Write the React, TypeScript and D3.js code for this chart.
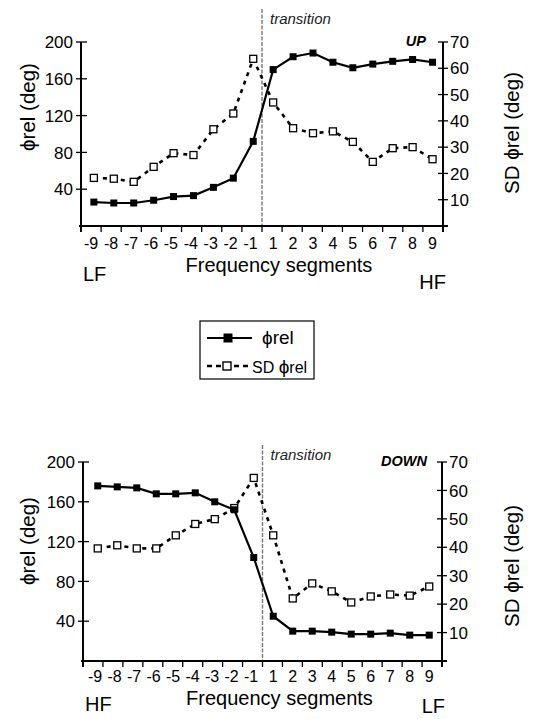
import React from "react";
import * as d3 from "d3";

const categories = [-9, -8, -7, -6, -5, -4, -3, -2, -1, 1, 2, 3, 4, 5, 6, 7, 8, 9];
const upPhi = [26, 25, 25, 28, 32, 33, 42, 52, 92, 170, 184, 188, 178, 172, 176, 179, 181, 178];
const upSD = [18.3, 18, 16.8, 22.5, 27.7, 27, 36.8, 42.8, 63.6, 47, 37.2, 35.3, 36, 32, 24.4, 29.6, 30, 25.4];
const downPhi = [176, 175, 174, 168, 168, 169, 160, 152, 104, 45, 30, 30, 29, 27, 27, 28, 26, 26];
const downSD = [39.6, 40.7, 39.6, 39.6, 44.2, 48.2, 49.9, 53.8, 64.4, 44.2, 22, 27.3, 24.5, 20.6, 22.7, 23.4, 23, 26.2];
const leftTicks = [40, 80, 120, 160, 200];
const rightTicks = [10, 20, 30, 40, 50, 60, 70];
const seriesNames = ["\u03D5rel", "SD \u03D5rel"];

const FONT = "'Liberation Sans', Arial, Helvetica, sans-serif";

type PanelProps = {
  phi: number[];
  sd: number[];
  xL: number;
  xR: number;
  yTop: number;
  yBot: number;
  p0: number;
  p1: number;
  tag: string;
  tagDx: number;
  leftEnd: string;
  rightEnd: string;
  transTop: number;
  leftLabelY: number;
  rightLabelY: number;
  tickDy: number;
  titleDy: number;
  leftEndDy: number;
  rightEndDy: number;
};

function Panel(p: PanelProps) {
  const x = d3.scaleLinear().domain([0, 18]).range([p.xL, p.xR]);
  const xp = d3.scalePoint<number>().domain(categories).range([x(p.p0), x(p.p1)]);
  const yL = d3.scaleLinear().domain([0, 200]).range([p.yBot, p.yTop]);
  const yR = d3.scaleLinear().domain([0, 70]).range([p.yBot, p.yTop]);
  const px = (i: number) => xp(categories[i]) as number;
  const linePhi = d3.line<number>().x((_, i) => px(i)).y((d) => yL(d));
  const lineSD = d3.line<number>().x((_, i) => px(i)).y((d) => yR(d));
  const tx = x(9);
  const ms = 7;
  return (
    <g fontFamily={FONT}>
      <line x1={tx} x2={tx} y1={p.transTop} y2={p.yBot} stroke="#777" strokeWidth={1.4} strokeDasharray="4 1.5" />
      <text x={tx + 8} y={p.transTop + 15} fontSize={15} fontStyle="italic" fill="#222">transition</text>
      <text x={p.xR - p.tagDx} y={p.yTop + 4} fontSize={14.5} fontStyle="italic" fontWeight="bold" textAnchor="end">{p.tag}</text>
      <line x1={p.xL} x2={p.xL} y1={p.yTop} y2={p.yBot + 6} stroke="#000" strokeWidth={2} />
      <line x1={p.xR} x2={p.xR} y1={p.yTop} y2={p.yBot + 6} stroke="#000" strokeWidth={2} />
      <line x1={p.xL - 2} x2={p.xR + 5} y1={p.yBot} y2={p.yBot} stroke="#000" strokeWidth={2} />
      {d3.range(19).map((k) => (
        <line key={"xt" + k} x1={x(k)} x2={x(k)} y1={p.yBot} y2={p.yBot + 6} stroke="#000" strokeWidth={1.3} />
      ))}
      {categories.map((c, i) => (
        <text key={"xl" + i} x={px(i) + 4.4} y={p.yBot + p.tickDy} fontSize={16} textAnchor="end">{String(c)}</text>
      ))}
      {leftTicks.map((t) => (
        <g key={"lt" + t}>
          <line x1={p.xL - 5} x2={p.xL + 6} y1={yL(t)} y2={yL(t)} stroke="#000" strokeWidth={1.3} />
          <text x={p.xL - 8} y={yL(t)} dy="0.36em" fontSize={17} textAnchor="end">{t}</text>
        </g>
      ))}
      {rightTicks.map((t) => (
        <g key={"rt" + t}>
          <line x1={p.xR - 5} x2={p.xR + 5} y1={yR(t)} y2={yR(t)} stroke="#000" strokeWidth={1.3} />
          <text x={p.xR + 7} y={yR(t)} dy="0.36em" fontSize={17} textAnchor="start">{t}</text>
        </g>
      ))}
      <text transform={`translate(35,${p.leftLabelY}) rotate(-90)`} fontSize={20.5} textAnchor="middle">{"\u03D5rel (deg)"}</text>
      <text transform={`translate(519,${p.rightLabelY}) rotate(-90)`} fontSize={20.5} textAnchor="middle">{"SD \u03D5rel (deg)"}</text>
      <text x={x(9) + 17} y={p.yBot + p.titleDy} fontSize={20} textAnchor="middle">Frequency segments</text>
      <text x={p.xL + 2} y={p.yBot + p.leftEndDy} fontSize={20}>{p.leftEnd}</text>
      <text x={p.xR + 3} y={p.yBot + p.rightEndDy} fontSize={20} textAnchor="end">{p.rightEnd}</text>
      <path d={lineSD(p.sd) || ""} fill="none" stroke="#000" strokeWidth={2.6} strokeDasharray="4 5" />
      <path d={linePhi(p.phi) || ""} fill="none" stroke="#000" strokeWidth={2.2} />
      {p.sd.map((v, i) => (
        <rect key={"s" + i} x={px(i) - ms / 2} y={yR(v) - ms / 2} width={ms} height={ms} fill="#fff" stroke="#000" strokeWidth={1.3} />
      ))}
      {p.phi.map((v, i) => (
        <rect key={"p" + i} x={px(i) - ms / 2} y={yL(v) - ms / 2} width={ms} height={ms} fill="#000" />
      ))}
    </g>
  );
}

function Legend() {
  return (
    <g fontFamily={FONT}>
      <rect x={200} y={321} width={114} height={58} fill="#fff" stroke="#000" strokeWidth={1.2} />
      <line x1={207} x2={252} y1={338} y2={338} stroke="#000" strokeWidth={2.2} />
      <rect x={228 - 4.5} y={338 - 4.5} width={9} height={9} fill="#000" />
      <text x={262} y={344} fontSize={19}>{seriesNames[0]}</text>
      <line x1={207} x2={248} y1={366} y2={366} stroke="#000" strokeWidth={2.4} strokeDasharray="5 4" />
      <rect x={227 - 4} y={366 - 4} width={8} height={8} fill="#fff" stroke="#000" strokeWidth={1.4} />
      <text x={252} y={373} fontSize={16}>
        <tspan>SD </tspan>
        <tspan fontSize={19}>{"\u03D5"}</tspan>
        <tspan>rel</tspan>
      </text>
    </g>
  );
}

export default function App() {
  return (
    <svg width={556} height={719} style={{ position: "absolute", left: 0, top: 0, background: "#fff" }}>
      <rect width={556} height={719} fill="#fff" />
      <Panel phi={upPhi} sd={upSD} xL={81} xR={443} yTop={42} yBot={226} p0={0.64} p1={17.48}
        tag="UP" tagDx={17} leftEnd="LF" rightEnd="HF" transTop={9} leftLabelY={107} rightLabelY={133}
        tickDy={23} titleDy={46} leftEndDy={55} rightEndDy={63} />
      <Legend />
      <Panel phi={downPhi} sd={downSD} xL={83} xR={442} yTop={462} yBot={661} p0={0.74} p1={17.36}
        tag="DOWN" tagDx={15} leftEnd="HF" rightEnd="LF" transTop={445} leftLabelY={541} rightLabelY={566}
        tickDy={21} titleDy={44} leftEndDy={50} rightEndDy={52} />
    </svg>
  );
}
